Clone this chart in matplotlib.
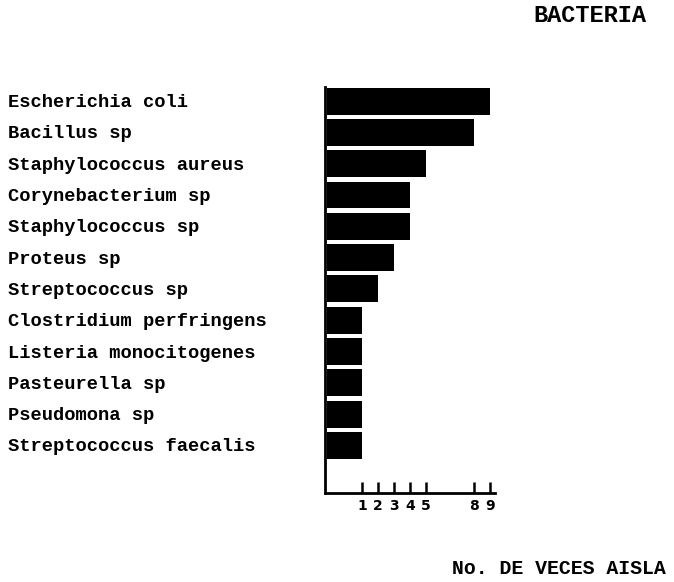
import numpy as np
import matplotlib.pyplot as plt
import matplotlib.transforms as mtransforms

# datos
bacterias = [
    "Escherichia coli",
    "Bacillus sp",
    "Staphylococcus aureus",
    "Corynebacterium sp",
    "Staphylococcus sp",
    "Proteus sp",
    "Streptococcus sp",
    "Clostridium perfringens",
    "Listeria monocitogenes",
    "Pasteurella sp",
    "Pseudomona sp",
    "Streptococcus faecalis",
]
veces = [9, 8, 5, 4, 4, 3, 2, 1, 1, 1, 1, 1]
ticks = [1, 2, 3, 4, 5, 8, 9]

mono = "Liberation Mono"
base = -1.2  # las barras arrancan a la izquierda del cero, como en el original

fig = plt.figure(figsize=(6.74, 5.82), dpi=100)
ax = fig.add_axes([325 / 674, 89 / 582, 170 / 674, 406 / 582])

y = np.arange(len(bacterias))
ax.barh(y, np.array(veces) - base, left=base, height=0.86, color="black")

ax.set_xlim(-1.3, 9.3)
ax.set_ylim(len(bacterias) - 1 + 1.52, -0.45)

# ejes
for s in ["top", "right"]:
    ax.spines[s].set_visible(False)
for s in ["left", "bottom"]:
    ax.spines[s].set_linewidth(2)
ax.set_yticks([])
ax.set_xticks(ticks)
ax.set_xticklabels([str(t) for t in ticks], fontsize=10, fontweight="bold",
                   family="DejaVu Sans")
ax.tick_params(axis="x", direction="in", length=8, width=1.8, pad=4)

# nombres de las bacterias alineados a la izquierda
trans = mtransforms.blended_transform_factory(fig.transFigure, ax.transData)
for i, nombre in enumerate(bacterias):
    ax.text(8 / 674, i + 0.05, nombre, transform=trans, ha="left", va="center",
            fontsize=13.5, family=mono, fontweight="bold", clip_on=False)

fig.text(533 / 674, 1 - 16 / 582, "BACTERIA", ha="left", va="center",
         fontsize=17, family=mono, fontweight="bold")
fig.text(452 / 674, 1 - 568 / 582, "No. DE VECES AISLA", ha="left", va="center",
         fontsize=14.3, family=mono, fontweight="bold")

fig.savefig("out.png", dpi=100)
